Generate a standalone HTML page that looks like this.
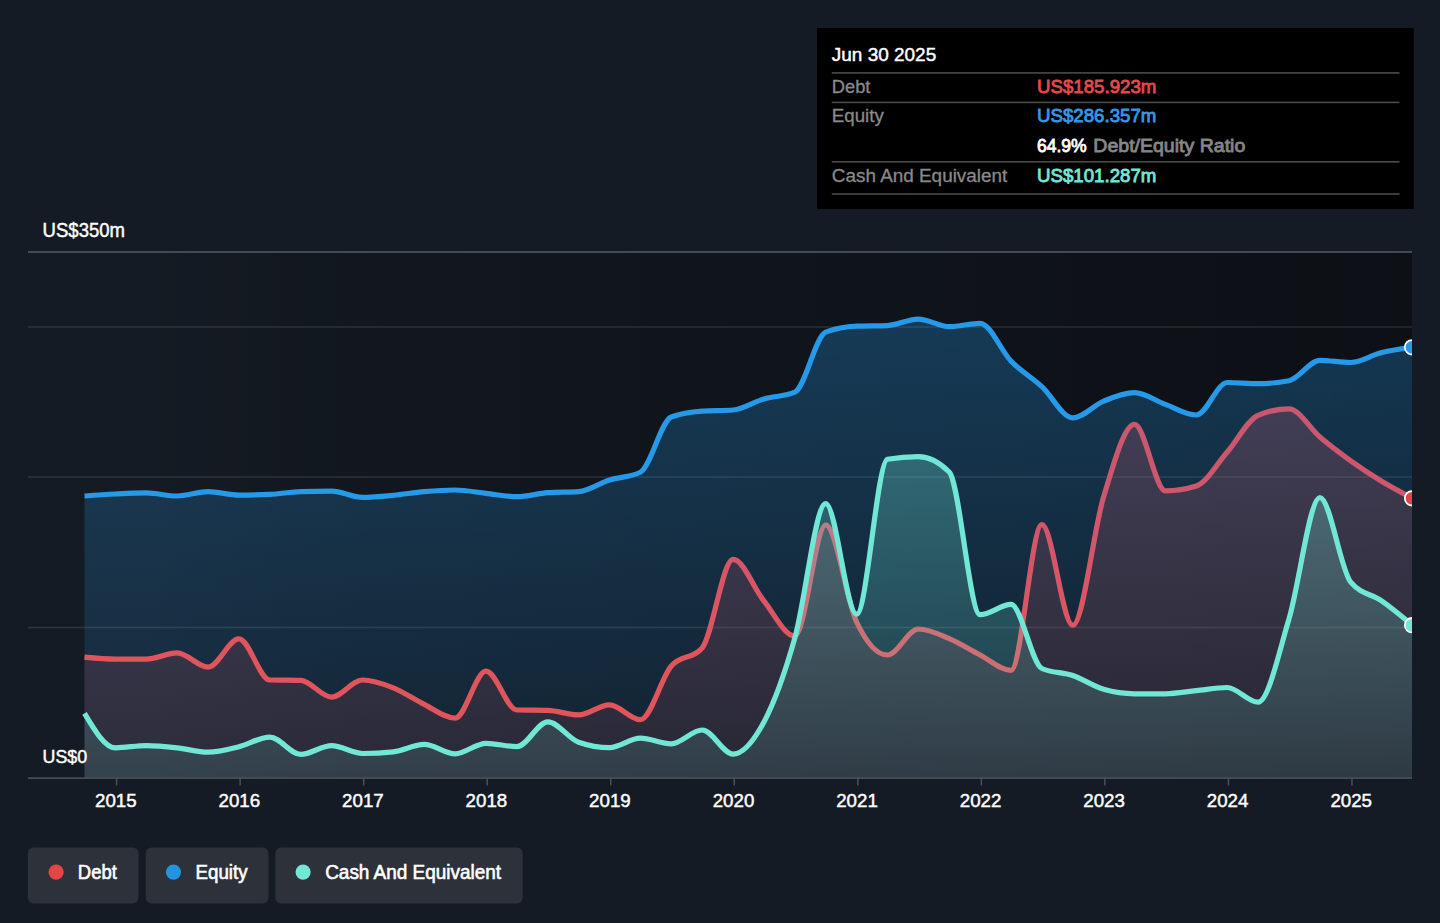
<!DOCTYPE html>
<html lang="en"><head><meta charset="utf-8"><title>Debt to Equity History</title>
<style>html,body{margin:0;padding:0;background:#151b24}svg{display:block}</style></head>
<body>
<svg width="1440" height="923" viewBox="0 0 1440 923" font-family='"Liberation Sans", sans-serif'>
<defs>
<linearGradient id="gbg" x1="0" y1="0" x2="1" y2="0"><stop offset="0.08" stop-color="#000" stop-opacity="0"/><stop offset="0.2" stop-color="#000" stop-opacity="0.12"/><stop offset="0.5" stop-color="#000" stop-opacity="0.24"/><stop offset="0.78" stop-color="#000" stop-opacity="0.33"/><stop offset="1" stop-color="#000" stop-opacity="0.41"/></linearGradient>
<linearGradient id="ge" x1="0" y1="319" x2="0" y2="778" gradientUnits="userSpaceOnUse"><stop offset="0" stop-color="#2699e8" stop-opacity="0.29"/><stop offset="1" stop-color="#2699e8" stop-opacity="0.10"/></linearGradient>
<linearGradient id="gd" x1="0" y1="408" x2="0" y2="778" gradientUnits="userSpaceOnUse"><stop offset="0" stop-color="#e64545" stop-opacity="0.28"/><stop offset="1" stop-color="#e64545" stop-opacity="0.11"/></linearGradient>
<linearGradient id="gc" x1="0" y1="454" x2="0" y2="778" gradientUnits="userSpaceOnUse"><stop offset="0" stop-color="#71e7d6" stop-opacity="0.30"/><stop offset="1" stop-color="#71e7d6" stop-opacity="0.115"/></linearGradient>
<linearGradient id="gdl" x1="0" y1="400" x2="0" y2="660" gradientUnits="userSpaceOnUse"><stop offset="0" stop-color="#c7586f"/><stop offset="0.6" stop-color="#d4566a"/><stop offset="0.87" stop-color="#de5560"/><stop offset="1" stop-color="#e0545c"/></linearGradient>
<clipPath id="clip"><rect x="28" y="240" width="1384" height="540"/></clipPath>
</defs>
<rect width="1440" height="923" fill="#151b24"/>
<rect x="28" y="252" width="1384" height="526" fill="url(#gbg)"/>
<rect x="28" y="326.2" width="1384" height="1.6" fill="#fff" opacity="0.11"/>
<rect x="28" y="476.2" width="1384" height="1.6" fill="#fff" opacity="0.11"/>
<rect x="28" y="626.7" width="1384" height="1.6" fill="#fff" opacity="0.11"/>
<rect x="28" y="251" width="1384" height="2" fill="#434a53"/>
<g clip-path="url(#clip)">
<path d="M84.50,657.10C94.79,658.10 105.09,659.10 115.38,659.10C125.68,659.10 135.97,659.10 146.27,659.10C156.56,659.10 166.86,652.90 177.15,652.90C187.45,652.90 197.74,667.10 208.04,667.10C218.33,667.10 228.63,638.90 238.92,638.90C249.21,638.90 259.51,679.73 269.80,680.00C280.10,680.27 290.39,680.13 300.69,680.40C310.98,680.67 321.28,697.10 331.57,697.10C341.87,697.10 352.16,680.00 362.46,680.00C372.75,680.00 383.05,683.73 393.34,687.80C403.63,691.87 413.93,699.33 424.22,704.40C434.52,709.47 444.81,718.20 455.11,718.20C465.40,718.20 475.70,671.10 485.99,671.10C496.29,671.10 506.58,709.73 516.88,710.00C527.17,710.27 537.47,710.13 547.76,710.40C558.05,710.67 568.35,714.90 578.64,714.90C588.94,714.90 599.23,704.90 609.53,704.90C619.82,704.90 630.12,719.70 640.41,719.70C650.71,719.70 661.00,677.95 671.30,666.00C681.59,654.05 691.89,660.00 702.18,648.00C712.47,636.00 722.77,559.40 733.06,559.40C743.36,559.40 753.65,588.23 763.95,601.00C774.24,613.77 784.54,636.00 794.83,636.00C805.13,636.00 815.42,525.00 825.72,525.00C836.01,525.00 846.31,600.33 856.60,622.00C866.89,643.67 877.19,655.00 887.48,655.00C897.78,655.00 908.07,629.00 918.37,629.00C928.66,629.00 938.96,634.27 949.25,638.60C959.55,642.93 969.84,649.72 980.14,655.00C990.43,660.28 1000.73,670.30 1011.02,670.30C1021.31,670.30 1031.61,524.70 1041.90,524.70C1052.20,524.70 1062.49,625.20 1072.79,625.20C1083.08,625.20 1093.38,530.08 1103.67,496.60C1113.97,463.12 1124.26,424.30 1134.56,424.30C1144.85,424.30 1155.15,490.80 1165.44,490.80C1175.73,490.80 1186.03,489.20 1196.32,486.00C1206.62,482.80 1216.91,463.78 1227.21,452.00C1237.50,440.22 1247.80,419.63 1258.09,415.30C1268.39,410.97 1278.68,408.80 1288.98,408.80C1299.27,408.80 1309.57,428.33 1319.86,437.00C1330.15,445.67 1340.45,453.43 1350.74,460.80C1361.04,468.17 1371.33,474.95 1381.63,481.20C1391.92,487.45 1402.22,492.88 1412.51,498.30L1412.51,778 L84.50,778 Z" fill="url(#gd)"/>
<path d="M84.50,496.00C94.79,495.26 105.09,494.52 115.38,494.00C125.68,493.48 135.97,492.90 146.27,492.90C156.56,492.90 166.86,496.00 177.15,496.00C187.45,496.00 197.74,491.60 208.04,491.60C218.33,491.60 228.63,495.10 238.92,495.10C249.21,495.10 259.51,494.87 269.80,494.40C280.10,493.93 290.39,491.93 300.69,491.60C310.98,491.27 321.28,491.10 331.57,491.10C341.87,491.10 352.16,497.30 362.46,497.30C372.75,497.30 383.05,496.25 393.34,495.30C403.63,494.35 413.93,492.48 424.22,491.60C434.52,490.72 444.81,490.00 455.11,490.00C465.40,490.00 475.70,492.18 485.99,493.30C496.29,494.42 506.58,496.70 516.88,496.70C527.17,496.70 537.47,493.43 547.76,492.70C558.05,491.97 568.35,492.33 578.64,491.60C588.94,490.87 599.23,483.23 609.53,480.00C619.82,476.77 630.12,477.40 640.41,472.20C650.71,467.00 661.00,420.93 671.30,417.00C681.59,413.07 691.89,411.83 702.18,411.10C712.47,410.37 722.77,410.73 733.06,410.00C743.36,409.27 753.65,401.87 763.95,398.90C774.24,395.93 784.54,396.67 794.83,392.20C805.13,387.73 815.42,336.20 825.72,332.20C836.01,328.20 846.31,326.60 856.60,326.20C866.89,325.80 877.19,326.00 887.48,325.60C897.78,325.20 908.07,319.10 918.37,319.10C928.66,319.10 938.96,326.70 949.25,326.70C959.55,326.70 969.84,323.30 980.14,323.30C990.43,323.30 1000.73,350.53 1011.02,361.10C1021.31,371.67 1031.61,377.25 1041.90,386.70C1052.20,396.15 1062.49,417.80 1072.79,417.80C1083.08,417.80 1093.38,405.28 1103.67,401.10C1113.97,396.92 1124.26,392.70 1134.56,392.70C1144.85,392.70 1155.15,400.68 1165.44,404.40C1175.73,408.12 1186.03,415.00 1196.32,415.00C1206.62,415.00 1216.91,382.50 1227.21,382.50C1237.50,382.50 1247.80,383.70 1258.09,383.70C1268.39,383.70 1278.68,382.70 1288.98,380.70C1299.27,378.70 1309.57,360.30 1319.86,360.30C1330.15,360.30 1340.45,362.50 1350.74,362.50C1361.04,362.50 1371.33,355.03 1381.63,352.50C1391.92,349.97 1402.22,348.63 1412.51,347.30L1412.51,778 L84.50,778 Z" fill="url(#ge)"/>
<path d="M84.50,657.10C94.79,658.10 105.09,659.10 115.38,659.10C125.68,659.10 135.97,659.10 146.27,659.10C156.56,659.10 166.86,652.90 177.15,652.90C187.45,652.90 197.74,667.10 208.04,667.10C218.33,667.10 228.63,638.90 238.92,638.90C249.21,638.90 259.51,679.73 269.80,680.00C280.10,680.27 290.39,680.13 300.69,680.40C310.98,680.67 321.28,697.10 331.57,697.10C341.87,697.10 352.16,680.00 362.46,680.00C372.75,680.00 383.05,683.73 393.34,687.80C403.63,691.87 413.93,699.33 424.22,704.40C434.52,709.47 444.81,718.20 455.11,718.20C465.40,718.20 475.70,671.10 485.99,671.10C496.29,671.10 506.58,709.73 516.88,710.00C527.17,710.27 537.47,710.13 547.76,710.40C558.05,710.67 568.35,714.90 578.64,714.90C588.94,714.90 599.23,704.90 609.53,704.90C619.82,704.90 630.12,719.70 640.41,719.70C650.71,719.70 661.00,677.95 671.30,666.00C681.59,654.05 691.89,660.00 702.18,648.00C712.47,636.00 722.77,559.40 733.06,559.40C743.36,559.40 753.65,588.23 763.95,601.00C774.24,613.77 784.54,636.00 794.83,636.00C805.13,636.00 815.42,525.00 825.72,525.00C836.01,525.00 846.31,600.33 856.60,622.00C866.89,643.67 877.19,655.00 887.48,655.00C897.78,655.00 908.07,629.00 918.37,629.00C928.66,629.00 938.96,634.27 949.25,638.60C959.55,642.93 969.84,649.72 980.14,655.00C990.43,660.28 1000.73,670.30 1011.02,670.30C1021.31,670.30 1031.61,524.70 1041.90,524.70C1052.20,524.70 1062.49,625.20 1072.79,625.20C1083.08,625.20 1093.38,530.08 1103.67,496.60C1113.97,463.12 1124.26,424.30 1134.56,424.30C1144.85,424.30 1155.15,490.80 1165.44,490.80C1175.73,490.80 1186.03,489.20 1196.32,486.00C1206.62,482.80 1216.91,463.78 1227.21,452.00C1237.50,440.22 1247.80,419.63 1258.09,415.30C1268.39,410.97 1278.68,408.80 1288.98,408.80C1299.27,408.80 1309.57,428.33 1319.86,437.00C1330.15,445.67 1340.45,453.43 1350.74,460.80C1361.04,468.17 1371.33,474.95 1381.63,481.20C1391.92,487.45 1402.22,492.88 1412.51,498.30" fill="none" stroke="url(#gdl)" stroke-width="5.2" stroke-linejoin="round"/>
<path d="M84.50,496.00C94.79,495.26 105.09,494.52 115.38,494.00C125.68,493.48 135.97,492.90 146.27,492.90C156.56,492.90 166.86,496.00 177.15,496.00C187.45,496.00 197.74,491.60 208.04,491.60C218.33,491.60 228.63,495.10 238.92,495.10C249.21,495.10 259.51,494.87 269.80,494.40C280.10,493.93 290.39,491.93 300.69,491.60C310.98,491.27 321.28,491.10 331.57,491.10C341.87,491.10 352.16,497.30 362.46,497.30C372.75,497.30 383.05,496.25 393.34,495.30C403.63,494.35 413.93,492.48 424.22,491.60C434.52,490.72 444.81,490.00 455.11,490.00C465.40,490.00 475.70,492.18 485.99,493.30C496.29,494.42 506.58,496.70 516.88,496.70C527.17,496.70 537.47,493.43 547.76,492.70C558.05,491.97 568.35,492.33 578.64,491.60C588.94,490.87 599.23,483.23 609.53,480.00C619.82,476.77 630.12,477.40 640.41,472.20C650.71,467.00 661.00,420.93 671.30,417.00C681.59,413.07 691.89,411.83 702.18,411.10C712.47,410.37 722.77,410.73 733.06,410.00C743.36,409.27 753.65,401.87 763.95,398.90C774.24,395.93 784.54,396.67 794.83,392.20C805.13,387.73 815.42,336.20 825.72,332.20C836.01,328.20 846.31,326.60 856.60,326.20C866.89,325.80 877.19,326.00 887.48,325.60C897.78,325.20 908.07,319.10 918.37,319.10C928.66,319.10 938.96,326.70 949.25,326.70C959.55,326.70 969.84,323.30 980.14,323.30C990.43,323.30 1000.73,350.53 1011.02,361.10C1021.31,371.67 1031.61,377.25 1041.90,386.70C1052.20,396.15 1062.49,417.80 1072.79,417.80C1083.08,417.80 1093.38,405.28 1103.67,401.10C1113.97,396.92 1124.26,392.70 1134.56,392.70C1144.85,392.70 1155.15,400.68 1165.44,404.40C1175.73,408.12 1186.03,415.00 1196.32,415.00C1206.62,415.00 1216.91,382.50 1227.21,382.50C1237.50,382.50 1247.80,383.70 1258.09,383.70C1268.39,383.70 1278.68,382.70 1288.98,380.70C1299.27,378.70 1309.57,360.30 1319.86,360.30C1330.15,360.30 1340.45,362.50 1350.74,362.50C1361.04,362.50 1371.33,355.03 1381.63,352.50C1391.92,349.97 1402.22,348.63 1412.51,347.30" fill="none" stroke="#2699e8" stroke-width="5.2" stroke-linejoin="round"/>
<path d="M84.50,713.30C94.79,730.55 105.09,747.80 115.38,747.80C125.68,747.80 135.97,745.60 146.27,745.60C156.56,745.60 166.86,746.70 177.15,747.80C187.45,748.90 197.74,752.20 208.04,752.20C218.33,752.20 228.63,749.22 238.92,746.70C249.21,744.18 259.51,737.10 269.80,737.10C280.10,737.10 290.39,754.40 300.69,754.40C310.98,754.40 321.28,745.60 331.57,745.60C341.87,745.60 352.16,753.50 362.46,753.50C372.75,753.50 383.05,752.93 393.34,751.80C403.63,750.67 413.93,744.40 424.22,744.40C434.52,744.40 444.81,753.80 455.11,753.80C465.40,753.80 475.70,743.30 485.99,743.30C496.29,743.30 506.58,746.70 516.88,746.70C527.17,746.70 537.47,721.80 547.76,721.80C558.05,721.80 568.35,738.60 578.64,742.20C588.94,745.80 599.23,747.60 609.53,747.60C619.82,747.60 630.12,738.20 640.41,738.20C650.71,738.20 661.00,743.80 671.30,743.80C681.59,743.80 691.89,730.00 702.18,730.00C712.47,730.00 722.77,754.10 733.06,754.10C743.36,754.10 753.65,741.35 763.95,722.00C774.24,702.65 784.54,674.38 794.83,638.00C805.13,601.62 815.42,503.70 825.72,503.70C836.01,503.70 846.31,614.20 856.60,614.20C866.89,614.20 877.19,461.10 887.48,459.30C897.78,457.50 908.07,456.60 918.37,456.60C928.66,456.60 938.96,461.73 949.25,472.00C959.55,482.27 969.84,614.70 980.14,614.70C990.43,614.70 1000.73,604.40 1011.02,604.40C1021.31,604.40 1031.61,663.83 1041.90,668.50C1052.20,673.17 1062.49,672.03 1072.79,675.50C1083.08,678.97 1093.38,686.30 1103.67,689.30C1113.97,692.30 1124.26,693.80 1134.56,693.80C1144.85,693.80 1155.15,693.80 1165.44,693.80C1175.73,693.80 1186.03,691.75 1196.32,690.70C1206.62,689.65 1216.91,687.50 1227.21,687.50C1237.50,687.50 1247.80,702.20 1258.09,702.20C1268.39,702.20 1278.68,653.08 1288.98,619.00C1299.27,584.92 1309.57,497.70 1319.86,497.70C1330.15,497.70 1340.45,569.80 1350.74,582.20C1361.04,594.60 1371.33,593.63 1381.63,600.80C1391.92,607.97 1402.22,616.58 1412.51,625.20L1412.51,778 L84.50,778 Z" fill="url(#gc)"/>
<path d="M84.50,713.30C94.79,730.55 105.09,747.80 115.38,747.80C125.68,747.80 135.97,745.60 146.27,745.60C156.56,745.60 166.86,746.70 177.15,747.80C187.45,748.90 197.74,752.20 208.04,752.20C218.33,752.20 228.63,749.22 238.92,746.70C249.21,744.18 259.51,737.10 269.80,737.10C280.10,737.10 290.39,754.40 300.69,754.40C310.98,754.40 321.28,745.60 331.57,745.60C341.87,745.60 352.16,753.50 362.46,753.50C372.75,753.50 383.05,752.93 393.34,751.80C403.63,750.67 413.93,744.40 424.22,744.40C434.52,744.40 444.81,753.80 455.11,753.80C465.40,753.80 475.70,743.30 485.99,743.30C496.29,743.30 506.58,746.70 516.88,746.70C527.17,746.70 537.47,721.80 547.76,721.80C558.05,721.80 568.35,738.60 578.64,742.20C588.94,745.80 599.23,747.60 609.53,747.60C619.82,747.60 630.12,738.20 640.41,738.20C650.71,738.20 661.00,743.80 671.30,743.80C681.59,743.80 691.89,730.00 702.18,730.00C712.47,730.00 722.77,754.10 733.06,754.10C743.36,754.10 753.65,741.35 763.95,722.00C774.24,702.65 784.54,674.38 794.83,638.00C805.13,601.62 815.42,503.70 825.72,503.70C836.01,503.70 846.31,614.20 856.60,614.20C866.89,614.20 877.19,461.10 887.48,459.30C897.78,457.50 908.07,456.60 918.37,456.60C928.66,456.60 938.96,461.73 949.25,472.00C959.55,482.27 969.84,614.70 980.14,614.70C990.43,614.70 1000.73,604.40 1011.02,604.40C1021.31,604.40 1031.61,663.83 1041.90,668.50C1052.20,673.17 1062.49,672.03 1072.79,675.50C1083.08,678.97 1093.38,686.30 1103.67,689.30C1113.97,692.30 1124.26,693.80 1134.56,693.80C1144.85,693.80 1155.15,693.80 1165.44,693.80C1175.73,693.80 1186.03,691.75 1196.32,690.70C1206.62,689.65 1216.91,687.50 1227.21,687.50C1237.50,687.50 1247.80,702.20 1258.09,702.20C1268.39,702.20 1278.68,653.08 1288.98,619.00C1299.27,584.92 1309.57,497.70 1319.86,497.70C1330.15,497.70 1340.45,569.80 1350.74,582.20C1361.04,594.60 1371.33,593.63 1381.63,600.80C1391.92,607.97 1402.22,616.58 1412.51,625.20" fill="none" stroke="#71e7d6" stroke-width="5.2" stroke-linejoin="round"/>
<circle cx="1412" cy="347.3" r="7.2" fill="#2699e8" stroke="#fff" stroke-width="1.8"/>
<circle cx="1412" cy="498.3" r="7.2" fill="#e64545" stroke="#fff" stroke-width="1.8"/>
<circle cx="1412" cy="625.2" r="7.2" fill="#71e7d6" stroke="#fff" stroke-width="1.8"/>
</g>
<rect x="28" y="777.3" width="1384" height="1.6" fill="#4a5059"/>
<rect x="115.8" y="778" width="1.5" height="7.5" fill="#4a5059"/>
<text x="115.8" y="806.8" fill="#fff" font-size="18.6" font-weight="normal" text-anchor="middle" textLength="41.6" lengthAdjust="spacingAndGlyphs" stroke="#fff" stroke-width="0.45">2015</text>
<rect x="239.4" y="778" width="1.5" height="7.5" fill="#4a5059"/>
<text x="239.3" y="806.8" fill="#fff" font-size="18.6" font-weight="normal" text-anchor="middle" textLength="41.6" lengthAdjust="spacingAndGlyphs" stroke="#fff" stroke-width="0.45">2016</text>
<rect x="362.9" y="778" width="1.5" height="7.5" fill="#4a5059"/>
<text x="362.9" y="806.8" fill="#fff" font-size="18.6" font-weight="normal" text-anchor="middle" textLength="41.6" lengthAdjust="spacingAndGlyphs" stroke="#fff" stroke-width="0.45">2017</text>
<rect x="486.5" y="778" width="1.5" height="7.5" fill="#4a5059"/>
<text x="486.4" y="806.8" fill="#fff" font-size="18.6" font-weight="normal" text-anchor="middle" textLength="41.6" lengthAdjust="spacingAndGlyphs" stroke="#fff" stroke-width="0.45">2018</text>
<rect x="610.0" y="778" width="1.5" height="7.5" fill="#4a5059"/>
<text x="609.9" y="806.8" fill="#fff" font-size="18.6" font-weight="normal" text-anchor="middle" textLength="41.6" lengthAdjust="spacingAndGlyphs" stroke="#fff" stroke-width="0.45">2019</text>
<rect x="733.5" y="778" width="1.5" height="7.5" fill="#4a5059"/>
<text x="733.5" y="806.8" fill="#fff" font-size="18.6" font-weight="normal" text-anchor="middle" textLength="41.6" lengthAdjust="spacingAndGlyphs" stroke="#fff" stroke-width="0.45">2020</text>
<rect x="857.1" y="778" width="1.5" height="7.5" fill="#4a5059"/>
<text x="857.0" y="806.8" fill="#fff" font-size="18.6" font-weight="normal" text-anchor="middle" textLength="41.6" lengthAdjust="spacingAndGlyphs" stroke="#fff" stroke-width="0.45">2021</text>
<rect x="980.6" y="778" width="1.5" height="7.5" fill="#4a5059"/>
<text x="980.6" y="806.8" fill="#fff" font-size="18.6" font-weight="normal" text-anchor="middle" textLength="41.6" lengthAdjust="spacingAndGlyphs" stroke="#fff" stroke-width="0.45">2022</text>
<rect x="1104.1" y="778" width="1.5" height="7.5" fill="#4a5059"/>
<text x="1104.1" y="806.8" fill="#fff" font-size="18.6" font-weight="normal" text-anchor="middle" textLength="41.6" lengthAdjust="spacingAndGlyphs" stroke="#fff" stroke-width="0.45">2023</text>
<rect x="1227.7" y="778" width="1.5" height="7.5" fill="#4a5059"/>
<text x="1227.6" y="806.8" fill="#fff" font-size="18.6" font-weight="normal" text-anchor="middle" textLength="41.6" lengthAdjust="spacingAndGlyphs" stroke="#fff" stroke-width="0.45">2024</text>
<rect x="1351.2" y="778" width="1.5" height="7.5" fill="#4a5059"/>
<text x="1351.2" y="806.8" fill="#fff" font-size="18.6" font-weight="normal" text-anchor="middle" textLength="41.6" lengthAdjust="spacingAndGlyphs" stroke="#fff" stroke-width="0.45">2025</text>
<text x="42.6" y="236.9" fill="#fff" font-size="19.6" font-weight="normal" text-anchor="start" textLength="82.4" lengthAdjust="spacingAndGlyphs" stroke="#fff" stroke-width="0.45">US$350m</text>
<text x="42.6" y="763.1" fill="#fff" font-size="18.6" font-weight="normal" text-anchor="start" textLength="44.6" lengthAdjust="spacingAndGlyphs" stroke="#fff" stroke-width="0.45">US$0</text>
<rect x="817" y="28" width="596.7" height="181" fill="#000"/>
<text x="831.8" y="61.2" fill="#fff" font-size="19.1" font-weight="normal" text-anchor="start" textLength="104.4" lengthAdjust="spacingAndGlyphs" stroke="#fff" stroke-width="0.45">Jun 30 2025</text>
<rect x="831.8" y="72.1" width="567.7" height="1.6" fill="#4a4a4a"/>
<rect x="831.8" y="101.6" width="567.7" height="1.6" fill="#4a4a4a"/>
<rect x="831.8" y="161.0" width="567.7" height="1.6" fill="#4a4a4a"/>
<rect x="831.8" y="193.2" width="567.7" height="1.6" fill="#4a4a4a"/>
<text x="831.8" y="92.8" fill="#8a8a8a" font-size="19.1" font-weight="normal" text-anchor="start" textLength="38.6" lengthAdjust="spacingAndGlyphs" stroke="#8a8a8a" stroke-width="0.30">Debt</text>
<text x="1037.0" y="92.8" fill="#e5484d" font-size="19.1" font-weight="normal" text-anchor="start" textLength="119.4" lengthAdjust="spacingAndGlyphs" stroke="#e5484d" stroke-width="0.85">US$185.923m</text>
<text x="831.8" y="122.4" fill="#8a8a8a" font-size="19.1" font-weight="normal" text-anchor="start" textLength="52.0" lengthAdjust="spacingAndGlyphs" stroke="#8a8a8a" stroke-width="0.30">Equity</text>
<text x="1037.0" y="122.4" fill="#3797e4" font-size="19.1" font-weight="normal" text-anchor="start" textLength="119.4" lengthAdjust="spacingAndGlyphs" stroke="#3797e4" stroke-width="0.85">US$286.357m</text>
<text x="1037.0" y="152.3" fill="#fff" font-size="19.1" font-weight="normal" text-anchor="start" textLength="49.7" lengthAdjust="spacingAndGlyphs" stroke="#fff" stroke-width="0.85">64.9%</text>
<text x="1093.3" y="152.3" fill="#858585" font-size="19.1" font-weight="normal" text-anchor="start" textLength="152.0" lengthAdjust="spacingAndGlyphs" stroke="#858585" stroke-width="0.85">Debt/Equity Ratio</text>
<text x="831.8" y="182.3" fill="#8a8a8a" font-size="19.1" font-weight="normal" text-anchor="start" textLength="175.5" lengthAdjust="spacingAndGlyphs" stroke="#8a8a8a" stroke-width="0.30">Cash And Equivalent</text>
<text x="1037.0" y="182.3" fill="#71e7d6" font-size="19.1" font-weight="normal" text-anchor="start" textLength="119.4" lengthAdjust="spacingAndGlyphs" stroke="#71e7d6" stroke-width="0.85">US$101.287m</text>
<rect x="27.9" y="847.6" width="110.6" height="56" rx="6" fill="#2c313a"/>
<circle cx="56.1" cy="872.1" r="7.6" fill="#e64545"/>
<text x="77.8" y="879.0" fill="#fff" font-size="19.6" font-weight="normal" text-anchor="start" textLength="39.0" lengthAdjust="spacingAndGlyphs" stroke="#fff" stroke-width="0.60">Debt</text>
<rect x="145.7" y="847.6" width="122.8" height="56" rx="6" fill="#2c313a"/>
<circle cx="173.5" cy="872.1" r="7.6" fill="#2394df"/>
<text x="195.5" y="879.0" fill="#fff" font-size="19.6" font-weight="normal" text-anchor="start" textLength="52.0" lengthAdjust="spacingAndGlyphs" stroke="#fff" stroke-width="0.60">Equity</text>
<rect x="275.3" y="847.6" width="247.4" height="56" rx="6" fill="#2c313a"/>
<circle cx="303.1" cy="872.1" r="7.6" fill="#71e7d6"/>
<text x="325.2" y="879.0" fill="#fff" font-size="19.6" font-weight="normal" text-anchor="start" textLength="175.8" lengthAdjust="spacingAndGlyphs" stroke="#fff" stroke-width="0.60">Cash And Equivalent</text>
</svg>
</body></html>
